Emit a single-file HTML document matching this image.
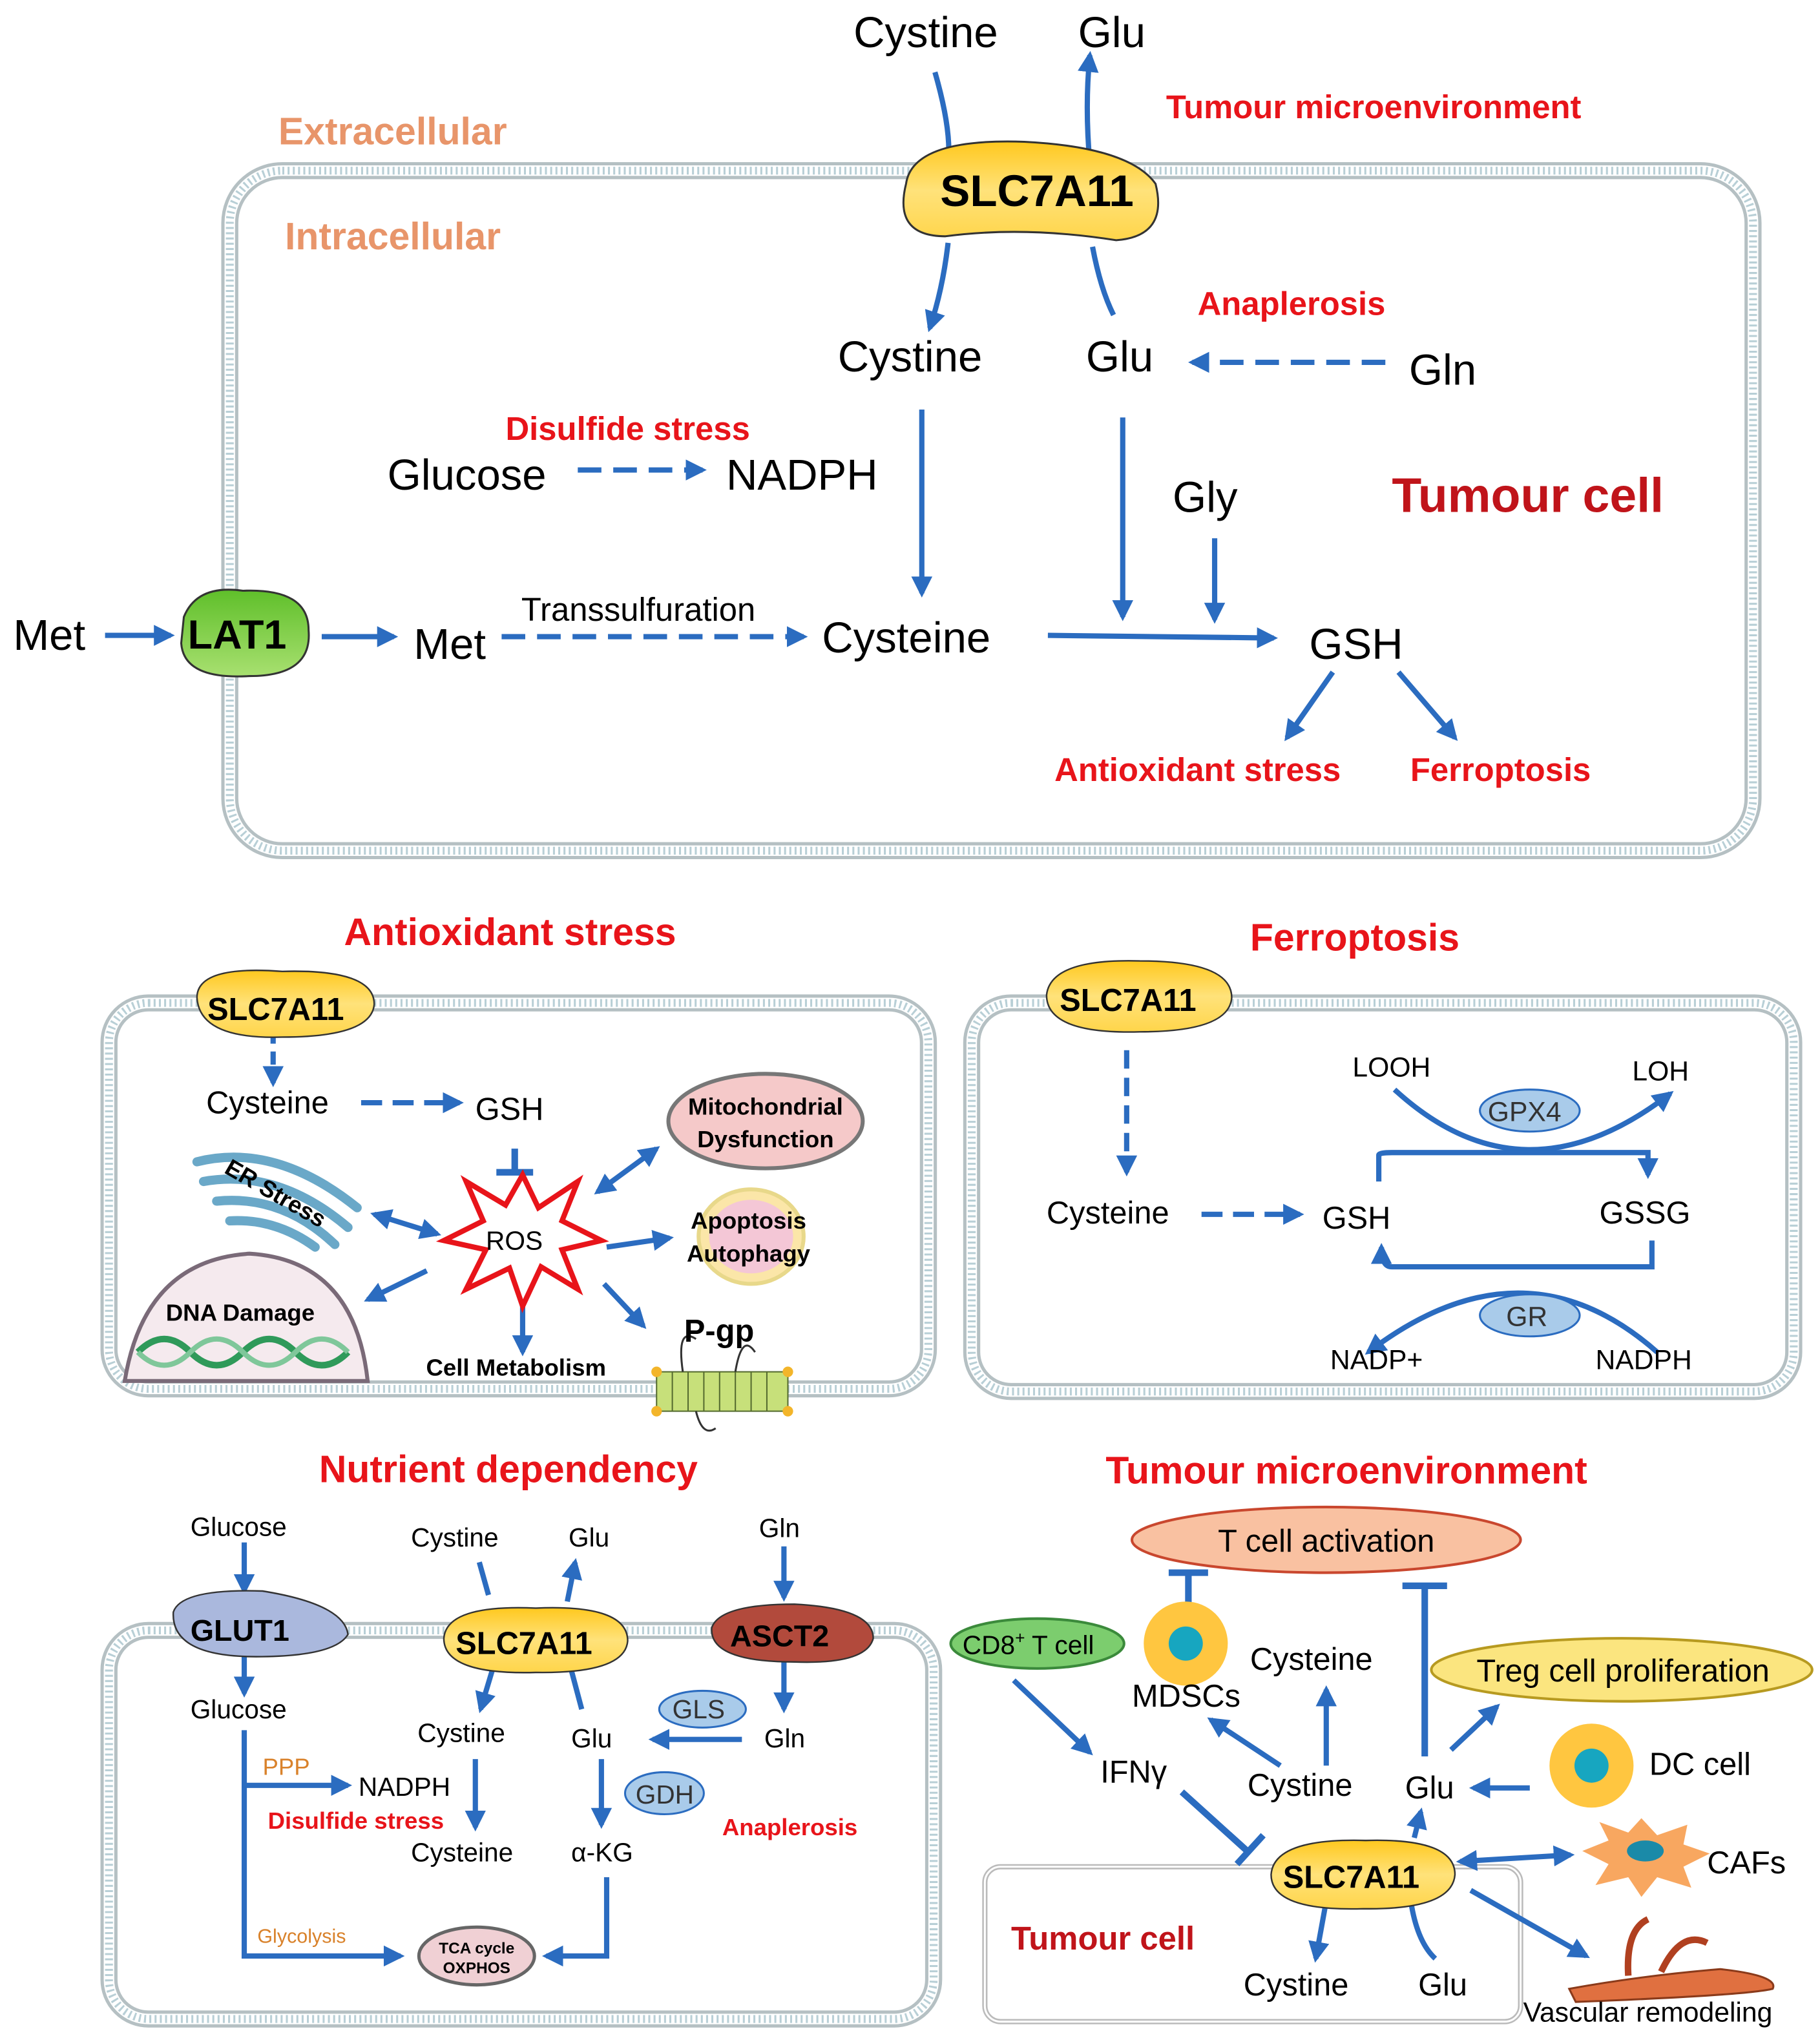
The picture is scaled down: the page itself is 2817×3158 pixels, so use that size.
<!DOCTYPE html>
<html><head><meta charset="utf-8"><style>
html,body{margin:0;padding:0;background:#fff}
svg{display:block}
text{font-family:"Liberation Sans",sans-serif}
</style></head><body>
<svg width="2817" height="3158" viewBox="0 0 1386 1554" preserveAspectRatio="none" xmlns="http://www.w3.org/2000/svg">
<defs>
<marker id="a" viewBox="0 0 10 10" refX="8" refY="5" markerWidth="4" markerHeight="4" orient="auto-start-reverse"><path d="M0,0 L10,5 L0,10 z" fill="#2b6cc0"/></marker>
<linearGradient id="y" x1="0" y1="0" x2="0" y2="1"><stop offset="0" stop-color="#ffc81e"/><stop offset=".5" stop-color="#ffe27a"/><stop offset="1" stop-color="#ffd54a"/></linearGradient>
<linearGradient id="g" x1="0" y1="0" x2="0" y2="1"><stop offset="0" stop-color="#5fbf2a"/><stop offset="1" stop-color="#a8e070"/></linearGradient>
</defs>
<g fill="none">
<g stroke="#b5c0c3" stroke-width="13"><rect x="175" y="130" width="1160" height="518" rx="40"/><rect x="83" y="764" width="624" height="294" rx="30"/><rect x="740" y="764" width="626" height="296" rx="30"/><rect x="83" y="1242" width="628" height="296" rx="30"/></g>
<g stroke="#fff" stroke-width="8"><rect x="175" y="130" width="1160" height="518" rx="40"/><rect x="83" y="764" width="624" height="294" rx="30"/><rect x="740" y="764" width="626" height="296" rx="30"/><rect x="83" y="1242" width="628" height="296" rx="30"/></g>
<g stroke="#b8cfd6" stroke-width="6" stroke-dasharray="1.5 2.5"><rect x="175" y="130" width="1160" height="518" rx="40"/><rect x="83" y="764" width="624" height="294" rx="30"/><rect x="740" y="764" width="626" height="296" rx="30"/><rect x="83" y="1242" width="628" height="296" rx="30"/></g>
<rect x="750" y="1422" width="408" height="118" rx="12" stroke="#bbb" stroke-width="4"/>
<rect x="750" y="1422" width="408" height="118" rx="12" stroke="#fff" stroke-width="1.5"/>
</g>

<g fill="none" stroke="#2b6cc0" stroke-width="4" marker-end="url(#a)">
<path d="M712,55 Q725,100 722,125"  marker-end="none"/>
<path d="M830,125 Q826,80 830,42"/>
<path d="M722,185 Q718,220 708,250"/>
<path d="M832,188 Q838,220 848,240" marker-end="none"/>
<path d="M1055,276 L908,276" stroke-dasharray="18 9"/>
<path d="M440,358 L535,358" stroke-dasharray="18 9"/>
<path d="M702,312 L702,452"/>
<path d="M855,318 L855,470"/>
<path d="M925,410 L925,472"/>
<path d="M798,484 L970,486"/>
<path d="M80,484 L130,484"/>
<path d="M245,485 L300,485"/>
<path d="M382,485 L612,485" stroke-dasharray="18 9"/>
<path d="M1015,512 L980,562"/>
<path d="M1065,512 L1108,562"/>
<path d="M208,785 L208,825" stroke-dasharray="10 6"/>
<path d="M275,840 L350,840" stroke-dasharray="16 8"/>
<path d="M455,908 L500,875" marker-start="url(#a)"/>
<path d="M285,925 L333,940" marker-start="url(#a)"/>
<path d="M462,950 L510,943"/>
<path d="M325,968 L280,990"/>
<path d="M398,985 L398,1030"/>
<path d="M460,978 L490,1010"/>
<path d="M858,800 L858,893" stroke-dasharray="14 7"/>
<path d="M915,925 L990,925" stroke-dasharray="16 8"/>
<path d="M1062,830 Q1160,920 1272,833"/>
<path d="M1050,900 L1050,880 Q1050,878 1060,878 L1255,878 L1255,895"/>
<path d="M1258,945 L1258,965 L1060,965 Q1052,965 1052,950"/>
<path d="M1262,1030 Q1160,940 1042,1030"/>
<path d="M186,1175 L186,1212"/>
<path d="M186,1260 L186,1290"/>
<path d="M186,1318 L186,1490 L305,1490"/>
<path d="M186,1360 L265,1360"/>
<path d="M365,1190 L372,1215" marker-end="none"/>
<path d="M432,1220 L438,1190"/>
<path d="M375,1272 L366,1302"/>
<path d="M435,1272 L443,1302" marker-end="none"/>
<path d="M597,1178 L597,1217"/>
<path d="M597,1266 L597,1302"/>
<path d="M565,1325 L497,1325"/>
<path d="M362,1340 L362,1392"/>
<path d="M458,1340 L458,1390"/>
<path d="M462,1430 L462,1490 L416,1490"/>
<path d="M772,1280 L830,1335"/>
<path d="M1010,1345 L1010,1287"/>
<path d="M975,1345 L922,1310"/>
<path d="M1077,1400 L1082,1380"/>
<path d="M1105,1333 L1140,1300"/>
<path d="M1165,1362 L1122,1362"/>
<path d="M1112,1418 L1196,1413" marker-start="url(#a)"/>
<path d="M1120,1440 L1208,1490"/>
<path d="M1010,1448 L1002,1492"/>
<path d="M1075,1452 Q1080,1480 1093,1492" marker-end="none"/>
</g>
<g stroke="#2b6cc0" stroke-width="4" fill="none">
<path d="M392,875 L392,893 M378,893 L406,893" stroke-width="5"/>
<path d="M905,1228 L905,1200 M890,1198 L920,1198" stroke-width="5"/>
<path d="M1085,1338 L1085,1208 M1068,1208 L1102,1208" stroke-width="5"/>
<path d="M900,1365 L952,1412 M942,1420 L962,1398" stroke-width="5"/>
</g>

<path d="M690,140 Q695,105 780,108 Q860,112 880,140 Q890,180 850,183 Q780,172 720,180 Q680,180 690,140z" fill="url(#y)" stroke="#333" stroke-width="1.5"/>
<path d="M140,470 Q150,445 185,450 Q235,448 235,480 Q238,515 190,515 Q140,518 138,490z" fill="url(#g)" stroke="#333" stroke-width="1.5"/>
<path d="M150,760 Q150,735 215,740 Q285,738 285,765 Q283,790 215,790 Q152,792 150,760z" fill="url(#y)" stroke="#333" stroke-width="1.2"/>
<path d="M797,758 Q800,730 868,732 Q938,732 938,760 Q936,786 868,786 Q797,788 797,758z" fill="url(#y)" stroke="#333" stroke-width="1.2"/>
<path d="M338,1248 Q340,1222 408,1225 Q478,1222 478,1250 Q476,1275 408,1274 Q338,1276 338,1248z" fill="url(#y)" stroke="#333" stroke-width="1.2"/>
<path d="M968,1428 Q970,1400 1040,1402 Q1108,1400 1108,1428 Q1106,1455 1038,1454 Q968,1456 968,1428z" fill="url(#y)" stroke="#333" stroke-width="1.2"/>
<path d="M132,1228 Q138,1210 200,1212 Q262,1222 265,1245 Q255,1262 195,1262 Q130,1262 132,1228z" fill="#aab8dd" stroke="#333" stroke-width="1.2"/>
<path d="M542,1240 Q548,1222 605,1222 Q665,1225 665,1248 Q660,1268 605,1266 Q540,1266 542,1240z" fill="#b24a3c" stroke="#333" stroke-width="1.2"/>
<ellipse cx="583" cy="854" rx="74" ry="36" fill="#f5c9c9" stroke="#777" stroke-width="3"/>
<ellipse cx="572" cy="942" rx="40" ry="36" fill="#fbe6a8" stroke="#e8d88a" stroke-width="3"/>
<ellipse cx="572" cy="942" rx="32" ry="28" fill="#f4c7d6"/>
<path d="M95,1052 Q110,960 190,955 Q270,960 280,1052z" fill="#f5eaee" stroke="#7a6a78" stroke-width="3"/>
<path d="M105,1030 Q125,1010 145,1030 T185,1030 T225,1030 T265,1030" fill="none" stroke="#2f9a5a" stroke-width="5"/>
<path d="M105,1030 Q125,1050 145,1030 T185,1030 T225,1030 T265,1030" fill="none" stroke="#7fc79a" stroke-width="4"/>
<path d="M150,885 Q210,870 272,920 M155,900 Q212,890 265,935 M165,915 Q215,910 255,948 M175,930 Q210,928 240,950" fill="none" stroke="#6aa8c8" stroke-width="7" stroke-linecap="round"/>
<polygon points="398,895 410,920 440,900 428,930 458,945 428,952 440,982 412,965 398,995 388,966 355,982 370,952 338,945 368,930 355,900 385,918" fill="#fff" stroke="#e8141a" stroke-width="4"/>
<g stroke="#556b2f" stroke-width="1"><rect x="500" y="1045" width="100" height="30" fill="#c7e07a"/>
<path d="M512,1045v30M524,1045v30M536,1045v30M548,1045v30M560,1045v30M572,1045v30M584,1045v30" /></g>
<g fill="#f3b52a"><circle cx="500" cy="1045" r="4"/><circle cx="600" cy="1045" r="4"/><circle cx="500" cy="1075" r="4"/><circle cx="600" cy="1075" r="4"/></g>
<path d="M520,1045 Q515,1010 530,1020 M560,1045 Q565,1015 575,1030 M530,1075 Q535,1095 545,1088" fill="none" stroke="#333" stroke-width="1.5"/>
<ellipse cx="1165" cy="846" rx="38" ry="16" fill="#a9cbea" stroke="#2b6cc0" stroke-width="1.5"/>
<ellipse cx="1165" cy="1002" rx="38" ry="16" fill="#a9cbea" stroke="#2b6cc0" stroke-width="1.5"/>
<ellipse cx="535" cy="1302" rx="33" ry="14" fill="#a9cbea" stroke="#2b6cc0" stroke-width="1.5"/>
<ellipse cx="506" cy="1366" rx="30" ry="16" fill="#a9cbea" stroke="#2b6cc0" stroke-width="1.5"/>
<ellipse cx="363" cy="1490" rx="44" ry="22" fill="#f0d0d4" stroke="#666" stroke-width="2.5"/>
<ellipse cx="1010" cy="1173" rx="148" ry="25" fill="#f9c1a1" stroke="#c9472e" stroke-width="2"/>
<ellipse cx="1235" cy="1272" rx="145" ry="24" fill="#fbe57f" stroke="#b79a20" stroke-width="2"/>
<ellipse cx="790" cy="1252" rx="66" ry="19" fill="#7ccd6e" stroke="#3b8a3b" stroke-width="2"/>
<circle cx="903" cy="1252" r="32" fill="#ffc640"/><circle cx="903" cy="1252" r="13" fill="#17a6c0"/>
<circle cx="1212" cy="1345" r="32" fill="#ffc640"/><circle cx="1212" cy="1345" r="13" fill="#17a6c0"/>
<polygon points="1250,1385 1262,1398 1285,1390 1282,1405 1302,1412 1282,1422 1288,1438 1262,1430 1250,1445 1240,1430 1215,1436 1225,1420 1205,1410 1225,1402 1218,1388 1240,1396" fill="#f8a760"/>
<ellipse cx="1253" cy="1410" rx="14" ry="8" fill="#1a8aa8"/>
<path d="M1195,1515 Q1250,1505 1310,1500 Q1355,1505 1350,1515 Q1330,1520 1200,1525z" fill="#e07040" stroke="#8a3a1a" stroke-width="1.5"/>
<path d="M1240,1505 Q1238,1470 1255,1462 M1265,1502 Q1280,1470 1300,1480" fill="none" stroke="#b04020" stroke-width="5"/>

<g fill="#000">
<g font-size="33"><text x="650" y="36">Cystine</text><text x="821" y="36">Glu</text>
<text x="638" y="283">Cystine</text><text x="827" y="283">Glu</text><text x="1073" y="293">Gln</text>
<text x="295" y="373">Glucose</text><text x="553" y="373">NADPH</text><text x="893" y="390">Gly</text>
<text x="10" y="495">Met</text><text x="315" y="502">Met</text><text x="626" y="497">Cysteine</text><text x="997" y="502">GSH</text></g>
<text x="397" y="473" font-size="25">Transsulfuration</text>
<text x="716" y="157" font-size="34" font-weight="bold">SLC7A11</text>
<text x="143" y="494" font-size="31" font-weight="bold">LAT1</text>
<text x="158" y="777" font-size="24" font-weight="bold">SLC7A11</text>
<text x="807" y="770" font-size="24" font-weight="bold">SLC7A11</text>
<text x="347" y="1260" font-size="24" font-weight="bold">SLC7A11</text>
<text x="977" y="1438" font-size="24" font-weight="bold">SLC7A11</text>
<text x="145" y="1250" font-size="23" font-weight="bold">GLUT1</text>
<text x="556" y="1254" font-size="23" font-weight="bold">ASCT2</text>
<g font-size="24"><text x="157" y="848">Cysteine</text><text x="362" y="853">GSH</text>
<text x="797" y="932">Cysteine</text><text x="1007" y="936">GSH</text><text x="1218" y="932">GSSG</text></g>
<g font-size="21"><text x="1030" y="820">LOOH</text><text x="1243" y="823">LOH</text><text x="1013" y="1043">NADP+</text><text x="1215" y="1043">NADPH</text>
<text x="1133" y="854" fill="#333">GPX4</text><text x="1147" y="1010" fill="#333">GR</text></g>
<text x="370" y="952" font-size="20">ROS</text>
<g font-size="18" font-weight="bold" text-anchor="middle"><text x="583" y="849">Mitochondrial</text><text x="583" y="874">Dysfunction</text>
<text x="570" y="936">Apoptosis</text><text x="570" y="961">Autophagy</text><text x="183" y="1006">DNA Damage</text><text x="393" y="1048">Cell Metabolism</text></g>
<text x="170" y="893" font-size="18" font-weight="bold" transform="rotate(30 170 893)">ER Stress</text>
<text x="521" y="1022" font-size="24" font-weight="bold">P-gp</text>
<g font-size="20"><text x="145" y="1170">Glucose</text><text x="145" y="1309">Glucose</text><text x="313" y="1178">Cystine</text><text x="433" y="1178">Glu</text><text x="578" y="1171">Gln</text>
<text x="318" y="1327">Cystine</text><text x="435" y="1331">Glu</text><text x="582" y="1331">Gln</text><text x="273" y="1368">NADPH</text><text x="313" y="1418">Cysteine</text><text x="435" y="1418">α-KG</text>
<text x="512" y="1309" fill="#333">GLS</text><text x="484" y="1374" fill="#333">GDH</text></g>
<text x="200" y="1352" font-size="18" fill="#d9822b">PPP</text>
<text x="196" y="1480" font-size="15" fill="#d9822b">Glycolysis</text>
<text x="363" y="1488" font-size="12" font-weight="bold" text-anchor="middle">TCA cycle</text>
<text x="363" y="1503" font-size="12" font-weight="bold" text-anchor="middle">OXPHOS</text>
<g font-size="24"><text x="1010" y="1182" text-anchor="middle">T cell activation</text><text x="1236" y="1281" text-anchor="middle">Treg cell proliferation</text>
<text x="952" y="1272">Cysteine</text><text x="862" y="1300">MDSCs</text><text x="838" y="1358">IFNγ</text><text x="950" y="1368">Cystine</text><text x="1070" y="1370">Glu</text>
<text x="1256" y="1352">DC cell</text><text x="1300" y="1427">CAFs</text><text x="947" y="1520">Cystine</text><text x="1080" y="1520">Glu</text></g>
<text x="733" y="1260" font-size="20">CD8<tspan font-size="13" dy="-8">+</tspan><tspan dy="8"> T cell</tspan></text>
<text x="1160" y="1540" font-size="21">Vascular remodeling</text>
</g>
<g fill="#e8141a" font-weight="bold">
<text x="888" y="90" font-size="25">Tumour microenvironment</text>
<text x="912" y="240" font-size="25">Anaplerosis</text>
<text x="385" y="335" font-size="25">Disulfide stress</text>
<text x="1060" y="390" font-size="37" fill="#c0141a">Tumour cell</text>
<text x="803" y="595" font-size="25">Antioxidant stress</text><text x="1074" y="595" font-size="25">Ferroptosis</text>
<text x="262" y="720" font-size="29">Antioxidant stress</text><text x="952" y="724" font-size="29">Ferroptosis</text>
<text x="243" y="1129" font-size="29">Nutrient dependency</text><text x="842" y="1130" font-size="29">Tumour microenvironment</text>
<text x="204" y="1393" font-size="18">Disulfide stress</text><text x="550" y="1398" font-size="18">Anaplerosis</text>
<text x="770" y="1485" font-size="25" fill="#c0141a">Tumour cell</text>
</g>
<g fill="#e8956a" font-weight="bold" font-size="29"><text x="212" y="110">Extracellular</text><text x="217" y="190">Intracellular</text></g>
</svg>
</body></html>
